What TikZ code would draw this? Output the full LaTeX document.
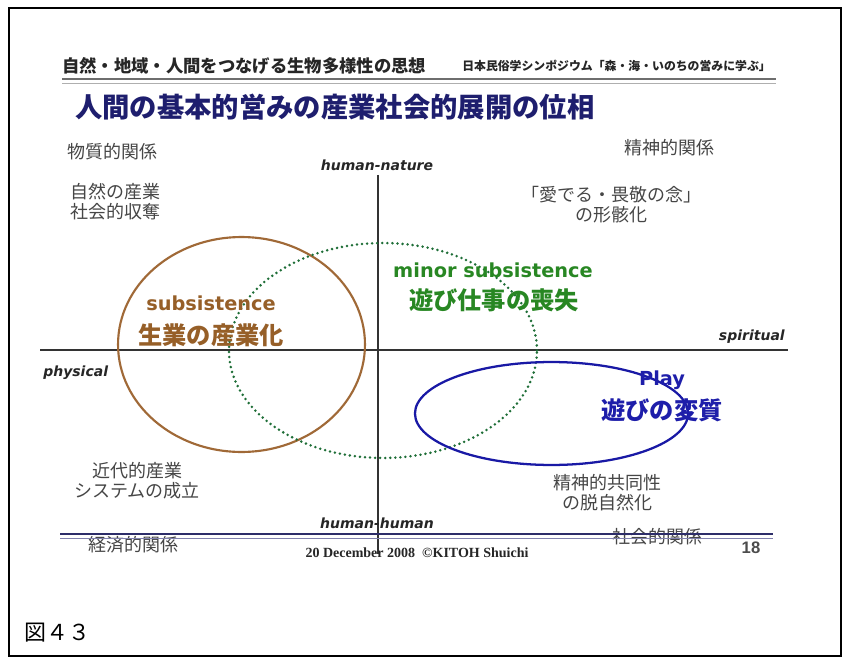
\documentclass[tikz,border=0pt]{standalone}
\usepackage{fontspec}
\usetikzlibrary{shapes.geometric}
\newfontfamily\jp{Noto Sans CJK JP}
\newfontfamily\dv{DejaVu Sans}[ItalicFont={DejaVu Sans Oblique},BoldFont={DejaVu Sans Bold},BoldItalicFont={DejaVu Sans Bold Oblique}]
\newfontfamily\tms{Liberation Serif}
\newfontfamily\ars{Liberation Sans}
\definecolor{titleblue}{RGB}{30,30,110}
\definecolor{brownt}{RGB}{150,95,40}
\definecolor{brownl}{RGB}{160,105,55}
\definecolor{greent}{RGB}{40,135,35}
\definecolor{greenl}{RGB}{30,110,55}
\definecolor{bluet}{RGB}{30,30,170}
\definecolor{bluel}{RGB}{25,25,165}
\definecolor{labgray}{RGB}{70,70,70}
\definecolor{hdrgray}{RGB}{110,110,110}
\definecolor{hdrlight}{RGB}{175,175,175}
\definecolor{ftrnavy}{RGB}{45,45,105}
\definecolor{ftrlight}{RGB}{130,130,175}
\begin{document}
\begin{tikzpicture}[x=0.75pt,y=-0.75pt,
  lab/.style={font=\jp\fontsize{13.5}{15}\selectfont, text=labgray, align=center, inner sep=0},
  axlab/.style={font=\dv\bfseries\itshape\fontsize{10.5}{12}\selectfont, text=black!85, inner sep=0},
  latbig/.style={font=\dv\bfseries\fontsize{14.5}{16}\selectfont, inner sep=0},
  jpbig/.style={font=\jp\bfseries\fontsize{18.2}{20}\selectfont, inner sep=0},
  ell/.style={draw, ellipse, inner sep=0, fill=none}]
\useasboundingbox (0,0) rectangle (848,659);
\fill[white] (0,0) rectangle (848,659);
\draw[line width=1.5pt] (8.5,8.5) rectangle (840.5,655.5);

% header
\node (hdrL) [anchor=west, font=\jp\bfseries\fontsize{13}{13}\selectfont, text=black!85, inner sep=0] at (62,66) {自然・地域・人間をつなげる生物多様性の思想};
\node (hdrR) [anchor=west, font=\jp\bfseries\fontsize{8.9}{9}\selectfont, text=black!85, inner sep=0] at (462,66) {日本民俗学シンポジウム「森・海・いのちの営みに学ぶ」};
\coordinate (h1a) at (62,79);
\coordinate (h1b) at (776,79);
\coordinate (h2a) at (62,83.5);
\coordinate (h2b) at (776,83.5);
\draw[hdrgray, line width=2.2pt] (h1a) -- (h1b);
\draw[hdrlight, line width=1.2pt] (h2a) -- (h2b);

% title
\node (title) [anchor=west, font=\jp\bfseries\fontsize{20.5}{21}\selectfont, text=titleblue, inner sep=0] at (75,107) {人間の基本的営みの産業社会的展開の位相};

% corner labels
\node (mat) [lab] at (112,152) {物質的関係};
\node (nat) [lab] at (115,202) {自然の産業\\社会的収奪};
\node (spi) [lab] at (669,148) {精神的関係};
\node (mede) [lab] at (611,205) {「愛でる・畏敬の念」\\の形骸化};
\node (mod) [lab] at (137,481) {近代的産業\\システムの成立};
\node (com) [lab] at (607,493) {精神的共同性\\の脱自然化};
\node (eco) [lab] at (133,545) {経済的関係};
\node (soc) [lab] at (657,537) {社会的関係};

% axes
\coordinate (vtop) at (378,175);
\coordinate (vbot) at (378,554);
\coordinate (hleft) at (40,350);
\coordinate (hright) at (788,350);
\draw[black!80, line width=0.9pt] (vtop) -- (vbot);
\draw[black!80, line width=0.9pt] (hleft) -- (hright);
\node (hn) [axlab] at (377,165) {human-nature};
\node (hh) [axlab] at (377,523) {human-human};
\node (sp) [axlab, anchor=east] at (785,337) {spiritual};
\node (ph) [axlab, anchor=west] at (43,373) {physical};

% ellipses
\node (brownE) [ell, draw=brownl, line width=1.6pt, minimum width=185.2pt, minimum height=161.2pt] at (241.5,344.5) {};
\node (greenE) [ell, draw=greenl, line width=2.1pt, dash pattern=on 0pt off 3.8pt, line cap=round, minimum width=231pt, minimum height=161.2pt] at (383,350.5) {};
\node (blueE) [ell, draw=bluel, line width=1.7pt, minimum width=204.8pt, minimum height=77.2pt] at (551.5,413.5) {};

% coloured labels
\node (subs) [latbig, text=brownt] at (211,303) {subsistence};
\node (subsj) [jpbig, text=brownt] at (211,335) {生業の産業化};
\node (minor) [latbig, text=greent] at (493,270) {minor subsistence};
\node (minorj) [jpbig, text=greent] at (494,300) {遊び仕事の喪失};
\node (play) [latbig, text=bluet] at (662,380) {Play};
\node (playj) [jpbig, text=bluet] at (662,410) {遊びの変質};

% footer
\coordinate (f1a) at (60,534);
\coordinate (f1b) at (773,534);
\coordinate (f2a) at (60,538.5);
\coordinate (f2b) at (773,538.5);
\draw[ftrnavy, line width=2.2pt] (f1a) -- (f1b);
\draw[ftrlight, line width=1pt] (f2a) -- (f2b);
\node (date) [font=\tms\bfseries\fontsize{10.5}{12}\selectfont, text=black!85, inner sep=0] at (417,553) {20 December 2008 \ ©KITOH Shuichi};
\node (pg) [font=\ars\bfseries\fontsize{12.5}{13}\selectfont, text=black!70, inner sep=0] at (751,548) {18};

\node (fig) [anchor=west, font=\jp\fontsize{16.5}{17}\selectfont, inner sep=0] at (24,633) {図４３};
\end{tikzpicture}
\end{document}
